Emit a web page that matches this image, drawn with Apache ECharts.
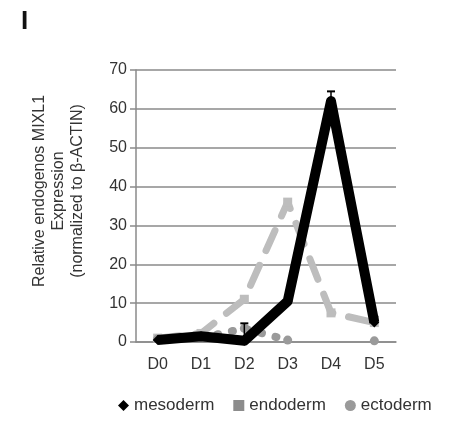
<!DOCTYPE html>
<html><head><meta charset="utf-8">
<script src="https://cdn.jsdelivr.net/npm/echarts@6/dist/echarts.min.js"></script>
<style>html,body{margin:0;padding:0;background:#fff}#c{width:461px;height:424px}</style>
</head><body><div id="c"></div>
<script>
var categories = ['D0','D1','D2','D3','D4','D5'];
var mesoderm = [0.5, 1.5, 0.3, 10.5, 62, 5];
var endoderm = [1, 2.2, 11, 36, 7.5, 5];
var ectoderm = [0.8, 1, 3.5, 0.5, null, 0.3];
var mesodermErrUpper = [null, null, 4.8, null, 64.5, 6.5];
var yTicks = [0,10,20,30,40,50,60,70];

var chart = echarts.init(document.getElementById('c'), null, {renderer:'canvas'});
var font = 'Liberation Sans, Arial, Helvetica, sans-serif';
chart.setOption({
  animation:false,
  textStyle:{fontFamily:font},
  grid:{left:136,right:65,top:70,bottom:82},
  title:{text:'I',left:16,top:4,textStyle:{fontSize:26,fontWeight:'bold',color:'#111',fontFamily:font}},
  legend:{
    bottom:5,left:113,itemGap:19,itemWidth:11,itemHeight:11,
    textStyle:{fontSize:17,color:'#333',fontFamily:font},
    data:[
      {name:'mesoderm',icon:'diamond',itemStyle:{color:'#000'}},
      {name:'endoderm',icon:'rect',itemStyle:{color:'#8c8c8c'}},
      {name:'ectoderm',icon:'circle',itemStyle:{color:'#9a9a9a'}}
    ]
  },
  graphic:[{
    type:'text',x:59,y:191,rotation:Math.PI/2,
    style:{text:'Relative endogenos MIXL1\nExpression\n(normalized to β-ACTIN)',
      font:'16px '+font,fill:'#333',textAlign:'center',textVerticalAlign:'middle',lineHeight:19}
  }],
  xAxis:{
    type:'category',data:categories,boundaryGap:true,
    axisLine:{show:true,lineStyle:{color:'#8a8a8a',width:1.5}},
    axisTick:{show:false},
    axisLabel:{fontSize:16,color:'#333',margin:15}
  },
  yAxis:{
    type:'value',min:0,max:70,interval:10,
    axisLine:{show:true,lineStyle:{color:'#8a8a8a',width:1.5}},
    axisTick:{show:true,inside:false,length:6,lineStyle:{color:'#8a8a8a',width:1.5}},
    axisLabel:{fontSize:16,color:'#333',margin:9,
      formatter:function(v){return yTicks.indexOf(v)>=0?String(v):'';}},
    splitLine:{show:true,lineStyle:{color:'#8a8a8a',width:1.5}}
  },
  series:[
    {name:'endoderm',type:'line',data:endoderm,z:2,symbol:'rect',symbolSize:9,
      itemStyle:{color:'#bdbdbd'},
      lineStyle:{color:'#bdbdbd',width:7,type:[22,16],cap:'round'}},
    {name:'ectoderm',type:'line',data:ectoderm,z:3,symbol:'circle',symbolSize:9,connectNulls:false,
      itemStyle:{color:'#9a9a9a'},
      lineStyle:{color:'#9a9a9a',width:8,type:[1,14],cap:'round'}},
    {name:'mesoderm',type:'line',data:mesoderm,z:4,symbol:'diamond',symbolSize:10,
      itemStyle:{color:'#000'},
      lineStyle:{color:'#000',width:10,join:'round'}},
    {name:'err',type:'custom',z:5,
      data:mesodermErrUpper.map(function(u,i){return [i,mesoderm[i],u];}),
      renderItem:function(params,api){
        var u=api.value(2); if(u==null||isNaN(u)) return null;
        var p0=api.coord([api.value(0),api.value(1)]);
        var p1=api.coord([api.value(0),u]);
        return {type:'group',children:[
          {type:'line',shape:{x1:p0[0],y1:p0[1],x2:p1[0],y2:p1[1]},style:{stroke:'#000',lineWidth:1.5}},
          {type:'line',shape:{x1:p1[0]-4,y1:p1[1],x2:p1[0]+4,y2:p1[1]},style:{stroke:'#000',lineWidth:2}}
        ]};
      }}
  ]
});
</script></body></html>
